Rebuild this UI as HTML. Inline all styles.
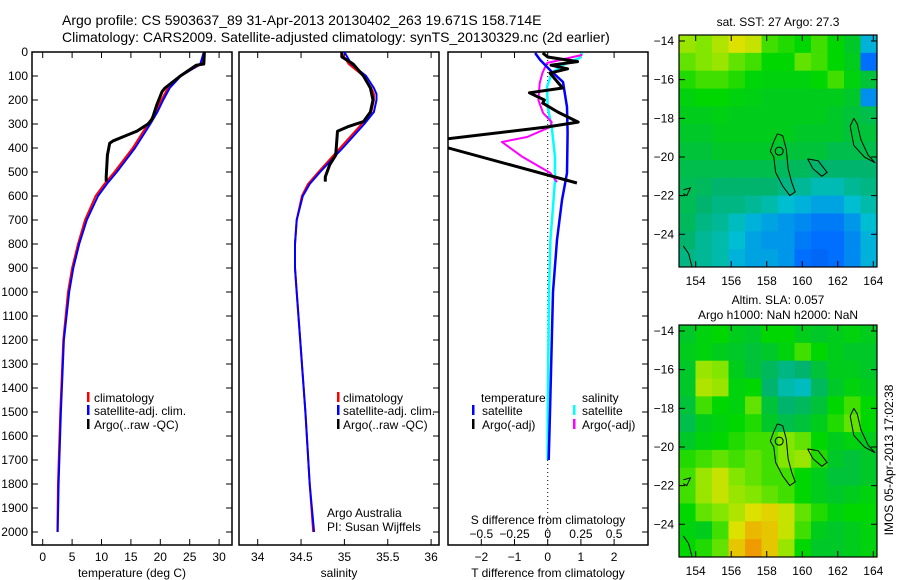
<!DOCTYPE html>
<html><head><meta charset="utf-8"><style>
html,body{margin:0;padding:0;background:#fff}
svg{display:block;font-family:"Liberation Sans",sans-serif}
text{fill:#000}
</style></head><body>
<svg id="fig" width="900" height="580" viewBox="0 0 900 580" xmlns="http://www.w3.org/2000/svg">
<defs>
<clipPath id="c1"><rect x="32" y="52" width="200" height="493"/></clipPath>
<clipPath id="c2"><rect x="239" y="52" width="200" height="493"/></clipPath>
<clipPath id="c3"><rect x="448" y="52" width="200" height="493"/></clipPath>
<clipPath id="cm1"><rect x="679" y="35" width="198" height="232"/></clipPath>
<clipPath id="cm2"><rect x="679" y="325" width="198" height="232"/></clipPath>
</defs>
<text x="62" y="25" font-size="14">Argo profile: CS 5903637_89 31-Apr-2013 20130402_263 19.671S 158.714E</text>
<text x="62" y="42" font-size="14">Climatology: CARS2009. Satellite-adjusted climatology: synTS_20130329.nc (2d earlier)</text>
<g id="g"></g>
<text transform="translate(893,460) rotate(-90)" text-anchor="middle" font-size="12">IMOS 05-Apr-2013 17:02:38</text>
</svg>
<script>
// ---- profile data ----
const depthT = [0,50,100,150,200,250,300,400,500,550,600,700,800,900,1000,1200,1500,1800,2000];
const tempClim = [27.6,27.0,23.3,21.3,20.2,19.2,17.9,15.3,12.2,10.5,9.0,7.2,6.0,5.0,4.3,3.5,3.0,2.6,2.5];
const tempSat  = [27.4,26.8,23.5,21.6,20.5,19.5,18.3,15.7,12.6,10.9,9.4,7.5,6.2,5.2,4.5,3.6,3.1,2.7,2.55];
const depthArgoT = [0,50,55,100,150,165,220,280,300,330,350,370,380,430,520,540];
const tempArgo = [27.5,27.4,26.1,23.4,20.8,20.3,19.4,18.6,17.9,16.0,14.0,12.0,11.4,11.0,10.8,10.8];
const depthS = [0,50,100,150,175,200,250,300,400,500,550,600,700,800,900,1000,1200,1500,1800,2000];
const salClim = [34.96,35.05,35.22,35.31,35.34,35.34,35.31,35.2,34.95,34.7,34.58,34.51,34.45,34.43,34.43,34.45,34.49,34.55,34.6,34.64];
const salSat  = [35.0,35.08,35.25,35.34,35.37,35.37,35.34,35.23,34.98,34.72,34.6,34.52,34.45,34.43,34.43,34.45,34.49,34.55,34.6,34.65];
const depthArgoS = [0,20,50,100,150,200,250,290,310,330,430,470,520,540];
const salArgo = [34.97,34.97,35.1,35.22,35.3,35.33,35.3,35.22,35.05,34.92,34.9,34.83,34.78,34.78];
// differences
const depthDT = [4,33,75,125,229,337,504,617,783,1000,1500,1700];
const dTsat = [-0.38,-0.23,0.07,0.46,0.58,0.6,0.58,0.43,0.28,0.16,0.07,0.03];
const depthDTargo = [4,21,40,55,70,88,150,170,200,213,250,292,312,363,380,396,546];
const dTargo = [-0.15,0,0.9,0.1,0.6,0.07,0.45,-0.55,-0.1,-0.15,0.3,0.92,0.0,-3.1,-3.6,-3.1,0.88];
const depthDS = [4,25,54,88,146,229,312,437,533,646,783,1000,1500,1700];
const dSsat = [0.26,0.24,0.115,0.03,-0.005,0,0.03,0.055,0.055,0.04,0.02,0.01,0.0,0.0];
const depthDSargo = [12,46,88,129,200,254,292,312,354,375,437,504,542];
const dSargo = [0.26,-0.005,-0.04,-0.06,-0.07,-0.035,0.03,0.02,-0.155,-0.345,-0.19,0.02,0.07];
const depthTicks = [0,100,200,300,400,500,600,700,800,900,1000,1100,1200,1300,1400,1500,1600,1700,1800,1900,2000];
const tempTicks = [0,5,10,15,20,25,30];
const salTicks = [34,34.5,35,35.5,36];
const salTickLabels = ["34","34.5","35","35.5","36"];
const dTTicks = [-2,-1,0,1,2];
const dSTicks = [-0.5,-0.25,0,0.25,0.5];
const dSTickLabels = ["\u22120.5","\u22120.25","0","0.25","0.5"];
// ---- map data (colour index 0..1) ----
const sstGrid = [
[.76,.74,.78,.82,.80,.70,.68,.66,.70,.66,.60,.40],
[.72,.74,.76,.72,.70,.66,.66,.72,.70,.66,.62,.30],
[.68,.70,.70,.68,.65,.64,.64,.64,.66,.70,.64,.58],
[.64,.66,.66,.64,.63,.62,.62,.62,.62,.62,.60,.35],
[.62,.62,.63,.62,.62,.62,.62,.62,.62,.60,.58,.56],
[.60,.60,.62,.62,.62,.62,.62,.60,.60,.60,.58,.58],
[.58,.58,.60,.60,.60,.60,.58,.58,.58,.56,.56,.56],
[.56,.56,.56,.56,.56,.56,.54,.54,.52,.52,.52,.52],
[.55,.54,.52,.52,.52,.52,.50,.48,.45,.45,.48,.50],
[.55,.52,.50,.50,.48,.46,.42,.40,.38,.38,.42,.46],
[.54,.50,.48,.44,.40,.38,.36,.34,.32,.32,.36,.42],
[.52,.48,.46,.42,.38,.36,.36,.32,.30,.30,.34,.40],
[.50,.48,.46,.40,.38,.38,.36,.30,.28,.30,.34,.40]];
const slaGrid = [
[.60,.64,.66,.62,.60,.66,.66,.62,.60,.62,.64,.62],
[.62,.64,.62,.60,.58,.60,.64,.70,.66,.62,.60,.60],
[.60,.76,.74,.62,.58,.54,.50,.52,.58,.62,.62,.60],
[.60,.78,.76,.64,.66,.52,.46,.44,.54,.60,.64,.62],
[.58,.70,.66,.64,.72,.58,.52,.54,.58,.66,.70,.66],
[.56,.62,.64,.66,.68,.60,.56,.58,.62,.68,.72,.66],
[.60,.64,.66,.68,.70,.70,.74,.72,.66,.62,.64,.62],
[.68,.70,.72,.70,.72,.70,.74,.76,.68,.60,.58,.60],
[.70,.76,.80,.74,.72,.70,.70,.66,.62,.58,.58,.60],
[.70,.76,.80,.76,.74,.72,.70,.66,.62,.60,.62,.64],
[.66,.72,.74,.78,.82,.84,.80,.72,.68,.64,.66,.66],
[.64,.62,.70,.82,.88,.86,.80,.70,.62,.60,.62,.64],
[.66,.68,.72,.86,.92,.86,.76,.66,.60,.60,.62,.64]];
const lonTicks = [154,156,158,160,162,164];
const latTicks = [-14,-16,-18,-20,-22,-24];
const coastMain = [[158.6,-18.8],[158.9,-18.9],[159.1,-19.6],[159.2,-20.6],[159.4,-21.3],[159.6,-21.8],[159.3,-22],[158.9,-21.5],[158.5,-20.8],[158.4,-20],[158.2,-19.7],[158.4,-19.2],[158.6,-18.8]];
const coastB = [[160.3,-20.1],[160.9,-20.2],[161.4,-20.8],[161.1,-21.0],[160.6,-20.6],[160.3,-20.1]];
const coastC = [[162.9,-18],[163.1,-18.3],[163.3,-19.1],[163.7,-19.9],[164.1,-20.3],[163.5,-20.0],[162.9,-19.4],[162.7,-18.4],[162.9,-18]];
const coastD = [[153.3,-21.7],[153.7,-21.6],[153.5,-22.0],[153.3,-21.9]];
const coastE = [[153.3,-24.6],[153.6,-25.0],[153.8,-25.7]];

const NS="http://www.w3.org/2000/svg";
const G=document.getElementById('g');
function mk(tag,attrs,parent){const e=document.createElementNS(NS,tag);for(const k in attrs)e.setAttribute(k,attrs[k]);(parent||G).appendChild(e);return e;}
// axes functions
const yD = d => 52 + 0.24*d;
const xT = t => 42.7 + 5.88*t;
const xS = s => 257.7 + 86.7*(s-34);
const xDT = t => 547.7 + 33.2*t;
const xDS = s => 547.7 + 132.7*s;
const xLon1 = l => 695.7 + 17.76*(l-154);
const yLat = (l,off) => 41 + off + 19.33*(-14 - l);

function line(xs, ys, fx, color, w, clip, name){
  const pts = xs.map((v,i)=>fx(v).toFixed(1)+','+yD(ys[i]).toFixed(1)).join(' ');
  const p = mk('polyline',{points:pts,fill:'none',stroke:color,'stroke-width':w,'stroke-linejoin':'round','clip-path':'url(#'+clip+')'});
  
  
}
function panel(x0,name){
  const r=mk('rect',{x:x0,y:52,width:200,height:493,fill:'none',stroke:'#000','stroke-width':1.5});
  
  
  depthTicks.forEach(d=>{mk('line',{x1:x0+200,x2:x0+194,y1:yD(d),y2:yD(d),stroke:'#000'});});
}
function txt(x,y,s,name,anchor,size){
  const t=mk('text',{x:x,y:y,'font-size':size||12,'text-anchor':anchor||'start'});
  t.textContent=s;
  
  
  return t;
}
function xticks(vals,fx,labels,ylab,name){
  vals.forEach((v,i)=>{
    const x=fx(v);
    mk('line',{x1:x,x2:x,y1:545,y2:539,stroke:'#000'});
    mk('line',{x1:x,x2:x,y1:52,y2:58,stroke:'#000'});
    txt(x,ylab,labels?labels[i]:String(v),name,'middle');
  });
}
// panel 1
panel(32,'temperature-panel');
depthTicks.forEach(d=>{mk('line',{x1:32,x2:38,y1:yD(d),y2:yD(d),stroke:'#000'});txt(28,yD(d)+4,String(d),'depth-tick-label','end');});
xticks(tempTicks,xT,null,561,'temperature-tick-label');
txt(132,577,'temperature (deg C)','temperature-axis-title','middle');
line(tempClim,depthT,xT,'#f00',2,'c1','temperature-climatology-line');
line(tempSat,depthT,xT,'#00f',2,'c1','temperature-satellite-line');
line(tempArgo,depthArgoT,xT,'#000',3,'c1','temperature-argo-line');
// panel 2
panel(239,'salinity-panel');
xticks(salTicks,xS,salTickLabels,561,'salinity-tick-label');
txt(339,577,'salinity','salinity-axis-title','middle');
line(salClim,depthS,xS,'#f00',2,'c2','salinity-climatology-line');
line(salSat,depthS,xS,'#00f',2,'c2','salinity-satellite-line');
line(salArgo,depthArgoS,xS,'#000',3,'c2','salinity-argo-line');
txt(327,517,'Argo Australia','institution-label');
txt(327,531,'PI: Susan Wijffels','pi-label');
// legends 1 & 2
[[87,94],[337,343]].forEach(([mx,tx])=>{
  [['#f00','climatology',402],['#00f','satellite-adj. clim.',415],['#000','Argo(..raw -QC)',429]].forEach(([c,l,y])=>{
    mk('rect',{x:mx,y:y-10,width:2.5,height:10,fill:c});
    txt(tx,y,l,'legend-entry');
  });
});
// panel 3
panel(448,'difference-panel');
mk('line',{x1:xDT(0),x2:xDT(0),y1:52,y2:545,stroke:'#000','stroke-dasharray':'1,3'});
xticks(dTTicks,xDT,["\u22122","\u22121","0","1","2"],561,'t-difference-tick-label');
dSTicks.forEach((v,i)=>txt(xDS(v),538,dSTickLabels[i],'s-difference-tick-label','middle'));
txt(548,524,'S difference from climatology','s-difference-axis-title','middle');
txt(548,577,'T difference from climatology','t-difference-axis-title','middle');
line(dSsat,depthDS,xDS,'#0ff',2.5,'c3','salinity-satellite-difference-line');
line(dSargo,depthDSargo,xDS,'#f0f',2,'c3','salinity-argo-difference-line');
line(dTsat,depthDT,xDT,'#00f',2.5,'c3','temperature-satellite-difference-line');
line(dTargo,depthDTargo,xDT,'#000',3,'c3','temperature-argo-difference-line');
txt(481,402,'temperature','legend-heading');
txt(582,402,'salinity','legend-heading');
[['#00f',472,'satellite',482,415],['#000',472,'Argo(-adj)',482,429],['#0ff',573,'satellite',582,415],['#f0f',573,'Argo(-adj)',582,429]].forEach(([c,mx,l,tx,y])=>{
  mk('rect',{x:mx,y:y-10,width:2.5,height:10,fill:c});
  txt(tx,y,l,'legend-entry');
});
// maps
function cmap(v){
  const stops=[[0,[0,0,140]],[0.3,[0,110,255]],[0.42,[0,190,210]],[0.52,[0,180,110]],[0.6,[0,200,40]],[0.66,[0,215,0]],[0.74,[130,230,0]],[0.82,[220,225,0]],[0.9,[240,170,0]],[1,[230,90,0]]];
  for(let i=1;i<stops.length;i++){if(v<=stops[i][0]){const a=stops[i-1],b=stops[i],f=(v-a[0])/(b[0]-a[0]);return 'rgb('+a[1].map((c,k)=>Math.round(c+f*(b[1][k]-c))).join(',')+')';}}
  return 'rgb(230,90,0)';
}
function map(grid,off,clip,name,title1,title2){
  const top=35+off, rows=grid.length, cols=grid[0].length, cw=198/cols, ch=232/rows;
  grid.forEach((row,r)=>row.forEach((v,c)=>{
    const cell=mk('rect',{x:(679+c*cw).toFixed(2),y:(top+r*ch).toFixed(2),width:(cw+0.6).toFixed(2),height:(ch+0.6).toFixed(2),fill:cmap(v),'clip-path':'url(#'+clip+')'});
    
    
  }));
  [coastMain,coastB,coastC,coastD,coastE].forEach(cs=>{
    const p=mk('polyline',{points:cs.map(q=>xLon1(q[0]).toFixed(1)+','+yLat(q[1],off).toFixed(1)).join(' '),fill:'none',stroke:'#000','stroke-width':1,'clip-path':'url(#'+clip+')'});
    
    
  });
  const circ=mk('circle',{cx:xLon1(158.7),cy:yLat(-19.7,off),r:4,fill:'none',stroke:'#000'});
  
  
  const fr=mk('rect',{x:679,y:top,width:198,height:232,fill:'none',stroke:'#000','stroke-width':1.2});
  
  
  lonTicks.forEach(l=>{const x=xLon1(l);mk('line',{x1:x,x2:x,y1:top+232,y2:top+226,stroke:'#000'});mk('line',{x1:x,x2:x,y1:top,y2:top+6,stroke:'#000'});txt(x,top+250,String(l),'longitude-tick-label','middle');});
  latTicks.forEach(l=>{const y=yLat(l,off);mk('line',{x1:679,x2:685,y1:y,y2:y,stroke:'#000'});mk('line',{x1:877,x2:871,y1:y,y2:y,stroke:'#000'});txt(674,y+4,'\u2212'+String(-l),'latitude-tick-label','end');});
  if(title2){txt(778,top-21,title1,'map-title','middle');txt(778,top-6,title2,'map-subtitle','middle');}
  else txt(778,top-9,title1,'map-title','middle');
}
map(sstGrid,0,'cm1','sst-map','sat. SST: 27 Argo: 27.3');
map(slaGrid,290,'cm2','sla-map','Altim. SLA: 0.057','Argo h1000: NaN h2000: NaN');
</script>
</body></html>
